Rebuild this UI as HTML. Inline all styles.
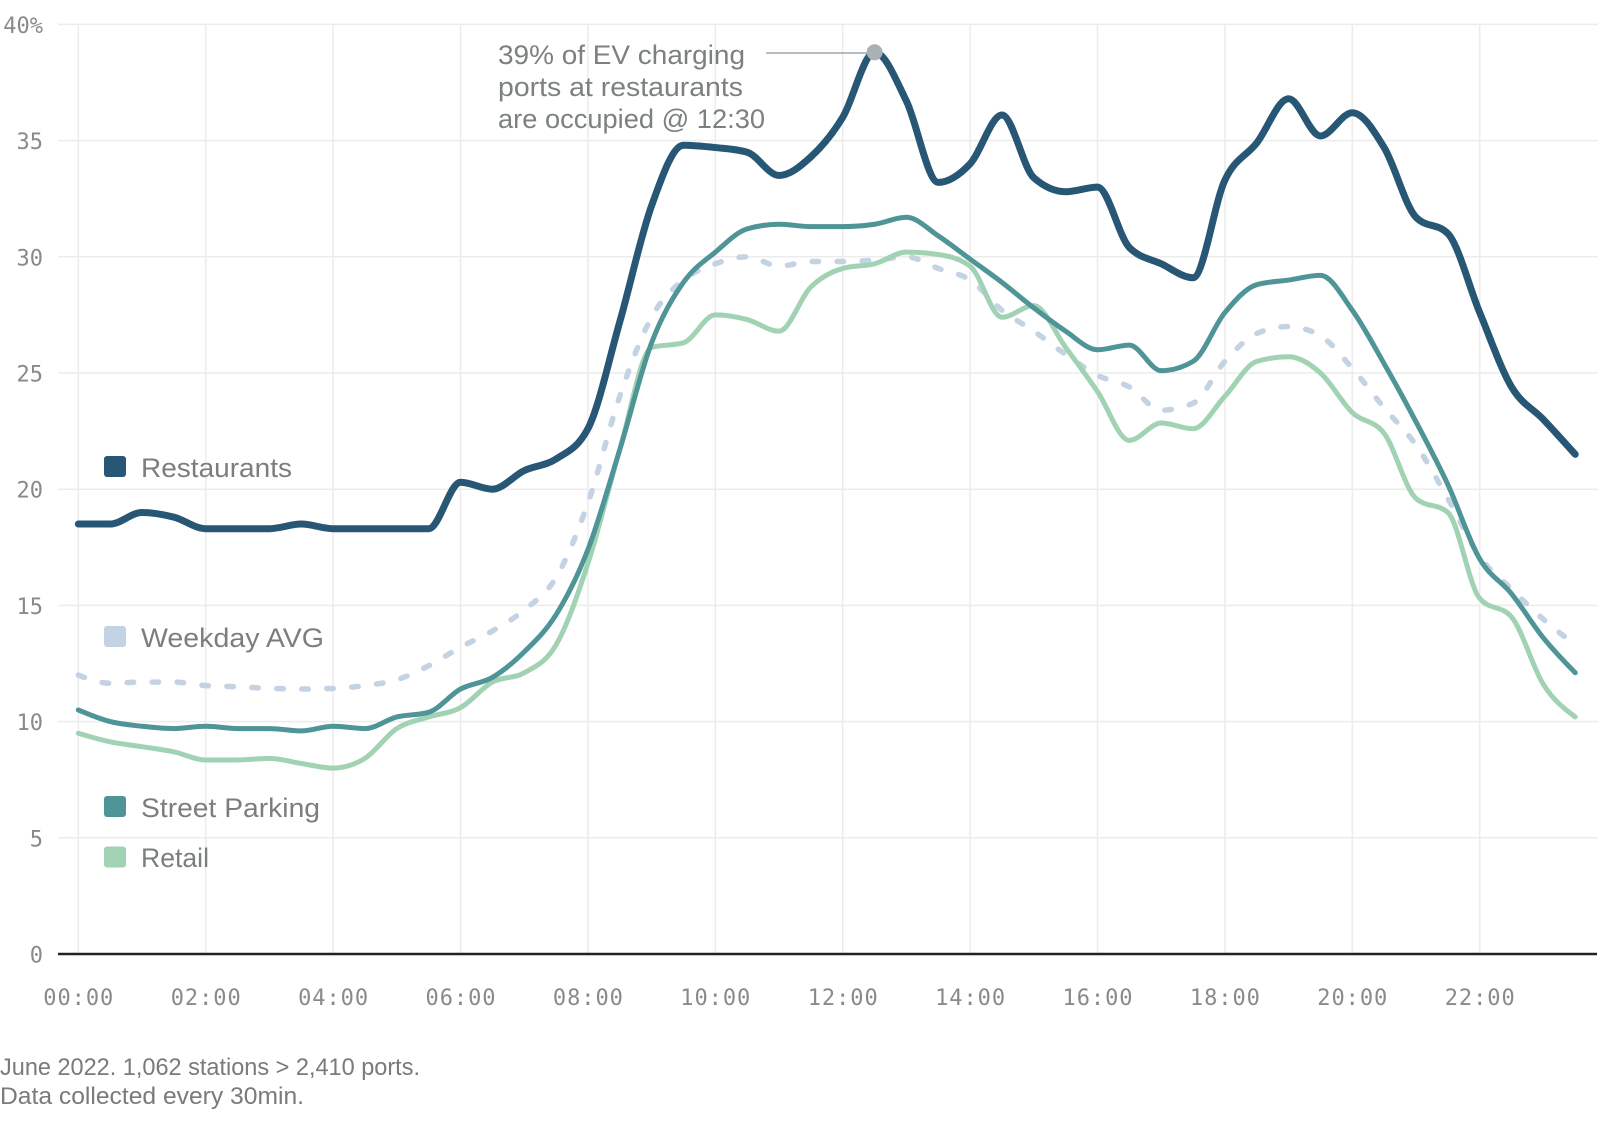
<!DOCTYPE html>
<html>
<head>
<meta charset="utf-8">
<style>
  html,body{margin:0;padding:0;background:#fff;}
  svg{display:block;}
  .yl{font-family:"DejaVu Sans Mono","Liberation Mono",monospace;font-size:22px;fill:#8a8a8a;text-anchor:end;}
  .xl{font-family:"DejaVu Sans Mono","Liberation Mono",monospace;font-size:22px;fill:#8a8a8a;text-anchor:middle;}
  .lg{font-family:"Liberation Sans",sans-serif;font-size:27px;fill:#7b7e80;}
  .an{font-family:"Liberation Sans",sans-serif;font-size:26.5px;fill:#7c8081;}
  .ft{font-family:"Liberation Sans",sans-serif;font-size:24px;fill:#7a7a7a;}
</style>
</head>
<body>
<svg id="chart" xmlns="http://www.w3.org/2000/svg" width="1598" height="1124" viewBox="0 0 1598 1124">
  <rect width="1598" height="1124" fill="#fff"/>
  <g id="grid" stroke="#ececec" stroke-width="1.5"></g>
  <g id="ylabels"></g>
  <g id="xlabels"></g>
  <line x1="58" y1="954" x2="1597" y2="954" stroke="#222" stroke-width="2.5"/>
  <g id="series" fill="none" stroke-linecap="round" stroke-linejoin="round"></g>

  <!-- annotation -->
  <line x1="766" y1="53" x2="874" y2="53" stroke="#9ea8ad" stroke-width="1.5"/>
  <circle cx="874.6" cy="52.3" r="8" fill="#a9b1b6"/>
  <text class="an" x="498" y="64" textLength="247" lengthAdjust="spacingAndGlyphs">39% of EV charging</text>
  <text class="an" x="498" y="96" textLength="245" lengthAdjust="spacingAndGlyphs">ports at restaurants</text>
  <text class="an" x="498" y="128" textLength="267" lengthAdjust="spacingAndGlyphs">are occupied @ 12:30</text>

  <!-- legend -->
  <rect x="104" y="456" width="22" height="21" rx="3" fill="#285775"/>
  <text class="lg" x="141" y="477" textLength="151" lengthAdjust="spacingAndGlyphs">Restaurants</text>
  <rect x="104" y="626" width="22" height="21" rx="3" fill="#c3d3e3"/>
  <text class="lg" x="141" y="647" textLength="183" lengthAdjust="spacingAndGlyphs">Weekday AVG</text>
  <rect x="104" y="796" width="22" height="21" rx="3" fill="#4f9497"/>
  <text class="lg" x="141" y="817" textLength="179" lengthAdjust="spacingAndGlyphs">Street Parking</text>
  <rect x="104" y="846.5" width="22" height="21" rx="3" fill="#a0d2b3"/>
  <text class="lg" x="141" y="867" textLength="68" lengthAdjust="spacingAndGlyphs">Retail</text>

  <!-- footer -->
  <text class="ft" x="0" y="1075" textLength="420" lengthAdjust="spacingAndGlyphs">June 2022. 1,062 stations &gt; 2,410 ports.</text>
  <text class="ft" x="0" y="1104" textLength="304" lengthAdjust="spacingAndGlyphs">Data collected every 30min.</text>
</svg>
<script>
(function(){
  var NS="http://www.w3.org/2000/svg";
  function X(i){return 78.3+31.85*i;}
  function Y(v){return 954-23.24*v;}
  function el(tag,attrs,parent,text){
    var e=document.createElementNS(NS,tag);
    for(var k in attrs)e.setAttribute(k,attrs[k]);
    if(text!==undefined)e.textContent=text;
    parent.appendChild(e);return e;
  }
  var grid=document.getElementById('grid');
  var yl=document.getElementById('ylabels');
  var xl=document.getElementById('xlabels');
  var ylabels=["0","5","10","15","20","25","30","35","40%"];
  for(var k=0;k<=8;k++){
    var y=Y(k*5);
    if(k>0) el('line',{x1:58,y1:y,x2:1598,y2:y},grid);
    el('text',{'class':'yl',x:43,y:y+8.5},yl,ylabels[k]);
  }
  for(var h=0;h<24;h+=2){
    var x=78.3+63.7*h;
    el('line',{x1:x,y1:24.3,x2:x,y2:954},grid);
    var lab=(h<10?"0":"")+h+":00";
    el('text',{'class':'xl',x:x,y:1005,textLength:70},xl,lab);
  }

  var rest=[18.5,18.5,19.0,18.8,18.3,18.3,18.3,18.5,18.3,18.3,18.3,18.3,20.3,20.0,20.8,21.3,22.6,27.2,32.2,34.8,34.7,34.5,33.5,34.3,36.0,38.8,36.7,33.2,34.0,36.1,33.4,32.8,33.0,30.4,29.7,29.1,33.3,34.9,36.8,35.2,36.2,34.7,31.7,31.0,27.6,24.4,23.0,21.5];
  var street=[10.5,10.0,9.8,9.7,9.8,9.7,9.7,9.6,9.8,9.7,10.2,10.4,11.4,11.9,13.0,14.6,17.4,21.7,26.3,28.9,30.2,31.2,31.4,31.3,31.3,31.4,31.7,30.9,29.9,28.9,27.8,26.8,26.0,26.2,25.1,25.5,27.6,28.8,29.0,29.2,27.7,25.4,22.9,20.2,17.0,15.5,13.6,12.1];
  var retail=[9.5,9.13,8.92,8.7,8.35,8.35,8.42,8.2,8.0,8.42,9.7,10.2,10.6,11.7,12.1,13.3,16.8,21.7,26.1,26.3,27.5,27.3,26.8,28.7,29.5,29.7,30.2,30.1,29.6,27.4,27.9,26.1,24.2,22.1,22.85,22.6,24.0,25.5,25.7,25.0,23.3,22.4,19.6,19.0,15.3,14.5,11.6,10.2];
  var week=[12.0,11.65,11.7,11.7,11.55,11.5,11.43,11.4,11.43,11.55,11.8,12.4,13.2,13.9,14.8,16.2,19.4,24.0,27.4,29.0,29.7,30.0,29.6,29.8,29.8,29.85,30.0,29.5,29.0,27.7,26.8,25.8,24.9,24.4,23.4,23.7,25.5,26.7,27.0,26.6,25.2,23.5,21.9,19.6,17.1,15.7,14.4,13.3];

  function sign(x){return x<0?-1:1;}
  function mono(vals){
    var n=vals.length,xs=[],ys=[],t=new Array(n),i;
    for(i=0;i<n;i++){xs.push(X(i));ys.push(Y(vals[i]));}
    for(i=1;i<n-1;i++){
      var h0=xs[i]-xs[i-1],h1=xs[i+1]-xs[i],s0=(ys[i]-ys[i-1])/h0,s1=(ys[i+1]-ys[i])/h1,p=(s0*h1+s1*h0)/(h0+h1);
      t[i]=(sign(s0)+sign(s1))*Math.min(Math.abs(s0),Math.abs(s1),0.5*Math.abs(p))||0;
    }
    t[0]=(3*(ys[1]-ys[0])/(xs[1]-xs[0])-t[1])/2;
    t[n-1]=(3*(ys[n-1]-ys[n-2])/(xs[n-1]-xs[n-2])-t[n-2])/2;
    var d="M"+xs[0].toFixed(2)+","+ys[0].toFixed(2);
    for(i=0;i<n-1;i++){
      var dx=(xs[i+1]-xs[i])/3;
      d+="C"+(xs[i]+dx).toFixed(2)+","+(ys[i]+dx*t[i]).toFixed(2)+" "+(xs[i+1]-dx).toFixed(2)+","+(ys[i+1]-dx*t[i+1]).toFixed(2)+" "+xs[i+1].toFixed(2)+","+ys[i+1].toFixed(2);
    }
    return d;
  }
  var g=document.getElementById('series');
  el('path',{d:mono(week),stroke:'#c3d3e3','stroke-width':5.5,'stroke-dasharray':'6.5 18.5'},g);
  el('path',{d:mono(retail),stroke:'#a0d2b3','stroke-width':5},g);
  el('path',{d:mono(street),stroke:'#4f9497','stroke-width':5},g);
  el('path',{d:mono(rest),stroke:'#285775','stroke-width':7},g);
})();
</script>
</body>
</html>
